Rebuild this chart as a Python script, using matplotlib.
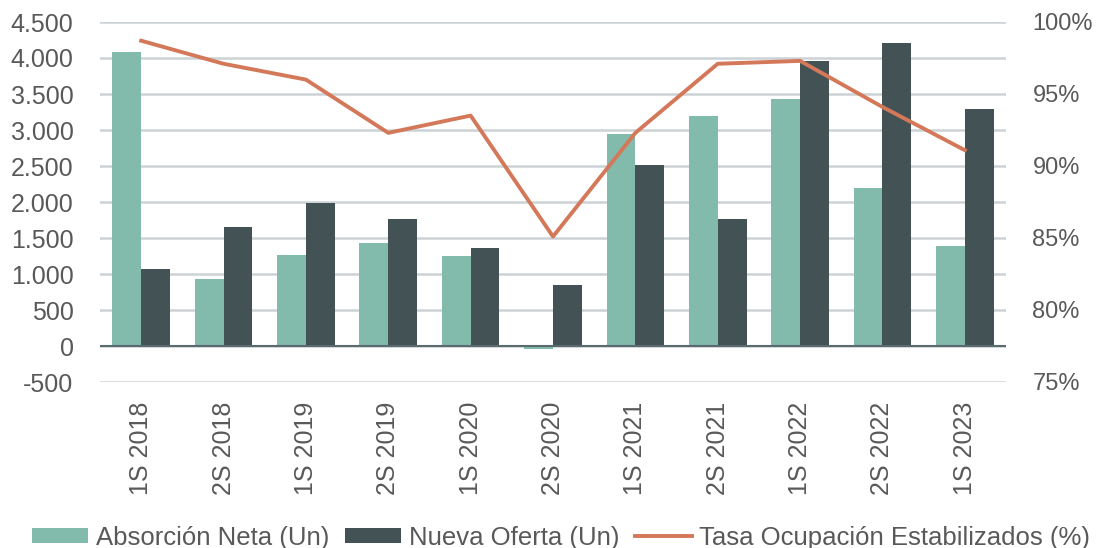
#absorcion neta / nueva oferta / tasa de ocupacion chart
import matplotlib
matplotlib.use('Agg')
import matplotlib.pyplot as plt
import matplotlib as mpl
import numpy as np

periodos = ['1S 2018', '2S 2018', '1S 2019', '2S 2019', '1S 2020', '2S 2020',
            '1S 2021', '2S 2021', '1S 2022', '2S 2022', '1S 2023']
absorcion = [4090, 935, 1270, 1435, 1255, -40, 2950, 3190, 3430, 2190, 1385]
oferta = [1065, 1650, 1990, 1765, 1365, 845, 2520, 1760, 3965, 4210, 3290]
ocupacion = [98.7, 97.1, 96.0, 92.3, 93.5, 85.1, 92.3, 97.1, 97.3, 94.1, 91.1]

teal = '#82BAAC'
dark = '#435255'
orange = '#D4785A'
grid_c = '#CCD2D5'
txt = '#595959'

plt.rcParams['font.family'] = ['Liberation Sans', 'DejaVu Sans']

fig = plt.figure(figsize=[10.96, 5.48], dpi=100)
ax1 = fig.add_axes([100/1096, 1-382/548, 906/1096, 360/548])

x = np.arange(len(periodos))
w = 0.35

ax1.set_axisbelow(True)
ax1.grid(axis='y', color=grid_c, linewidth=1.8, zorder=0)
b1 = ax1.bar(x - w/2, absorcion, w, color=teal, zorder=3, label='Absorción Neta (Un)')
b2 = ax1.bar(x + w/2, oferta, w, color=dark, zorder=3, label='Nueva Oferta (Un)')
ax1.axhline(0, color='#5B6A6E', linewidth=1.5, zorder=4)

ax1.set_ylim(-500, 4500)
ax1.set_yticks(np.arange(-500, 4501, 500))
ax1.yaxis.set_major_formatter(mpl.ticker.FuncFormatter(lambda v, p: f'{int(v):,}'.replace(',', '.')))
ax1.set_xlim(-0.5, len(periodos)-0.5)
ax1.set_xticks(x)
ax1.set_xticklabels(periodos, rotation=90)

ax2 = ax1.twinx()
l1, = ax2.plot(x, ocupacion, color=orange, linewidth=2.8, zorder=5, label='Tasa Ocupación Estabilizados (%)')
ax2.set_ylim(75, 100)
ax2.set_yticks(np.arange(75, 101, 5))
ax2.yaxis.set_major_formatter(mpl.ticker.FuncFormatter(lambda v, p: f'{int(v)}%'))

for ax in (ax1, ax2):
    ax.spines[['right', 'top', 'left', 'bottom']].set_visible(False)
    ax.tick_params(length=0, labelsize=17, labelcolor=txt)
ax1.tick_params(axis='y', pad=19, labelsize=18)
ax1.tick_params(axis='x', pad=14, labelsize=18)
ax2.tick_params(axis='y', pad=19)

fig.legend(handles=[b1, b2, l1], loc='lower center', bbox_to_anchor=(0.512, -0.045),
           ncol=3, frameon=False, fontsize=18.5, labelcolor=txt,
           handlelength=2.2, handletextpad=0.3, columnspacing=0.6, handleheight=0.55)

plt.savefig('out.png', dpi=100)
